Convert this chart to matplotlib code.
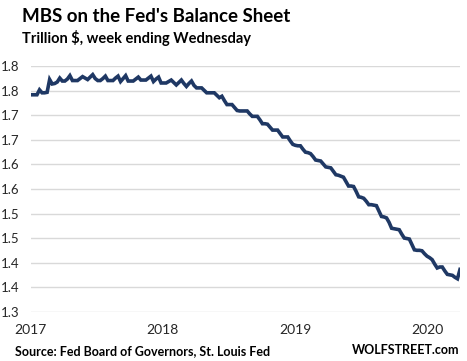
#%%
import pandas as pd
import matplotlib
matplotlib.use('Agg')
import matplotlib.pyplot as plt
import matplotlib.dates as mdates

plt.rcParams['font.family'] = ['Lato', 'DejaVu Sans']

# weekly MBS holdings, trillion $ (week ending Wednesday)
mbs = [1.742, 1.742, 1.742, 1.752, 1.746, 1.746, 1.747, 1.773, 1.764, 1.765,
       1.768, 1.776, 1.770, 1.770, 1.774, 1.781, 1.771, 1.771, 1.771, 1.775,
       1.779, 1.776, 1.773, 1.778, 1.783, 1.775, 1.771, 1.771, 1.775, 1.780,
       1.771, 1.771, 1.771, 1.776, 1.780, 1.769, 1.775, 1.781, 1.770, 1.770,
       1.770, 1.774, 1.778, 1.772, 1.772, 1.772, 1.776, 1.780, 1.769, 1.774,
       1.778, 1.766, 1.766, 1.766, 1.769, 1.772, 1.767, 1.762, 1.767, 1.772,
       1.765, 1.759, 1.765, 1.770, 1.761, 1.756, 1.756, 1.756, 1.751, 1.746,
       1.746, 1.746, 1.746, 1.741, 1.736, 1.739, 1.730, 1.722, 1.722, 1.722,
       1.716, 1.710, 1.709, 1.709, 1.709, 1.709, 1.703, 1.698, 1.698, 1.698,
       1.691, 1.683, 1.683, 1.682, 1.676, 1.670, 1.670, 1.670, 1.663, 1.656,
       1.656, 1.656, 1.648, 1.641, 1.639, 1.638, 1.638, 1.631, 1.625, 1.624,
       1.622, 1.616, 1.609, 1.608, 1.607, 1.601, 1.595, 1.594, 1.593, 1.586,
       1.579, 1.578, 1.576, 1.574, 1.565, 1.556, 1.556, 1.555, 1.545, 1.534,
       1.533, 1.531, 1.525, 1.518, 1.518, 1.517, 1.516, 1.505, 1.494, 1.493,
       1.491, 1.482, 1.470, 1.469, 1.468, 1.467, 1.458, 1.450, 1.449, 1.448,
       1.437, 1.426, 1.425, 1.425, 1.424, 1.418, 1.413, 1.410, 1.406, 1.397,
       1.389, 1.391, 1.391, 1.383, 1.376, 1.375, 1.374, 1.370, 1.367, 1.386]
weeks = pd.date_range('2017-01-04', periods=len(mbs), freq='7D')

ytick_vals = [1.30, 1.35, 1.40, 1.45, 1.50, 1.55, 1.60, 1.65, 1.70, 1.75, 1.80]
ytick_labels = ['1.3', '1.4', '1.4', '1.5', '1.5', '1.6', '1.6', '1.7', '1.7', '1.8', '1.8']
years = ['2017', '2018', '2019', '2020']

# %%
fig = plt.figure(figsize=(4.67, 3.61), dpi=100)
fig.set_facecolor('white')
ax = fig.add_axes([0.066, 0.136, 0.919, 0.681])

ax.plot(weeks, mbs, color='#1f3864', linewidth=2.6, solid_joinstyle='miter')

ax.set_ylim(1.2995, 1.8005)  # a hair of room so the 1.3 / 1.8 gridlines are kept
ax.set_yticks(ytick_vals)
ax.set_yticklabels(ytick_labels)
ax.set_xlim(pd.Timestamp('2017-01-01'), weeks[-1])
ax.set_xticks([pd.Timestamp(y + '-01-01') for y in years])
ax.xaxis.set_major_formatter(mdates.DateFormatter('%Y'))

ax.grid(axis='y', color='#d9d9d9', linewidth=1)
ax.set_axisbelow(True)
for s in ax.spines.values():
    s.set_visible(False)
ax.tick_params(axis='y', length=0, pad=8, labelsize=9.5, labelcolor='#262626')
ax.tick_params(axis='x', length=0, pad=9, labelsize=10, labelcolor='#262626')

# titles / footer
fig.text(22/467, 1-22/361, "MBS on the Fed's Balance Sheet", fontsize=13.5,
         fontweight='bold', color='black', ha='left', va='baseline')
fig.text(22/467, 1-43/361, "Trillion $, week ending Wednesday", fontsize=10.5,
         fontweight='bold', color='black', ha='left', va='baseline')
fig.text(15/467, 1-355/361, "Source: Fed Board of Governors, St. Louis Fed", fontsize=9,
         fontweight='bold', color='black', ha='left', va='baseline')
fig.text(459/467, 1-354/361, "WOLFSTREET.com", fontsize=9,
         fontweight='bold', color='black', ha='right', va='baseline')

plt.savefig('out.png', dpi=100)
